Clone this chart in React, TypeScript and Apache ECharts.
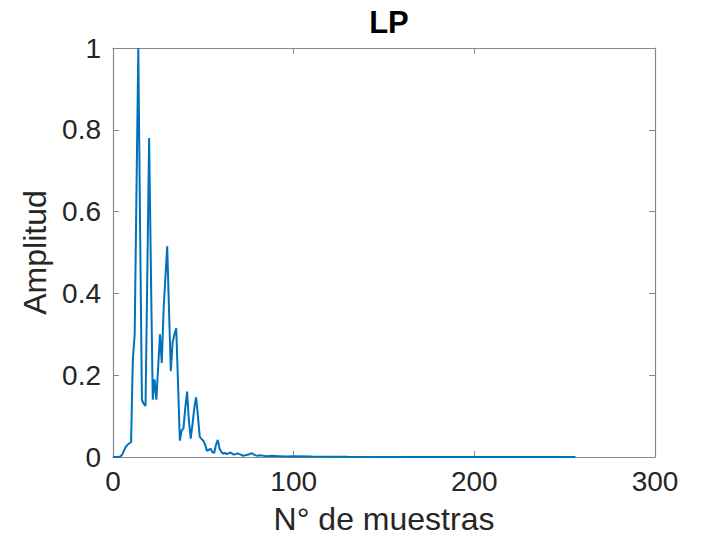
import React, { useEffect, useRef } from "react";
import * as echarts from "echarts";

const titleText = "LP";
const xName = "N° de muestras";
const yName = "Amplitud";

// sample index (x) and amplitude (y)
const sampleIdx = [
  0, 1, 2, 3, 4, 5, 6, 7, 8, 9, 10, 11, 12, 13, 14, 15, 16, 17, 18, 19, 20,
  21, 22, 23, 24, 25, 26, 27, 28, 29, 30, 31, 32, 33, 34, 35, 36, 37, 38, 39,
  40, 41, 42, 43, 44, 45, 46, 47, 48, 49, 50, 51, 52, 53, 54, 55, 56, 57, 58,
  59, 60, 61, 62, 63, 64, 65, 66, 67, 68, 69, 70, 71, 72, 73, 74, 75, 76, 77,
  78, 79, 80, 82, 85, 88, 92, 96, 100, 110, 130, 170, 210, 256,
];
const amplitude = [
  0, 0, 0, 0, 0.001, 0.005, 0.015, 0.024, 0.03, 0.033, 0.036, 0.24, 0.3,
  0.65, 1.0, 0.56, 0.14, 0.13, 0.125, 0.45, 0.78, 0.45, 0.14, 0.19, 0.14,
  0.22, 0.3, 0.23, 0.36, 0.44, 0.515, 0.36, 0.21, 0.28, 0.3, 0.315, 0.18,
  0.04, 0.065, 0.07, 0.12, 0.16, 0.09, 0.045, 0.08, 0.12, 0.146, 0.1, 0.05,
  0.044, 0.04, 0.03, 0.015, 0.018, 0.02, 0.012, 0.01, 0.03, 0.042, 0.02,
  0.012, 0.008, 0.01, 0.007, 0.009, 0.011, 0.008, 0.006, 0.007, 0.009,
  0.007, 0.005, 0.003, 0.004, 0.005, 0.006, 0.008, 0.009, 0.006, 0.004,
  0.003, 0.004, 0.002, 0.003, 0.002, 0.001, 0.002, 0.001, 0.0005, 0.0003,
  0.0002, 0,
];

const xMin = 0;
const xMax = 300;
const xStep = 100;
const yMin = 0;
const yMax = 1;
const yStep = 0.2;

const FONT = "'Liberation Sans', Arial, Helvetica, sans-serif";
const TEXT = "#262626";
const FRAME = "#8a8a8a";

export default function App() {
  const ref = useRef<HTMLDivElement>(null);

  useEffect(() => {
    if (!ref.current) return;
    const chart = echarts.init(ref.current, undefined, { renderer: "svg" });
    const data = sampleIdx.map((x, i) => [x, amplitude[i]]);

    const tickCommon = {
      show: true,
      inside: true,
      length: 6,
      lineStyle: { color: FRAME, width: 1 },
    };
    const lineCommon = {
      show: true,
      onZero: false,
      lineStyle: { color: FRAME, width: 1.2 },
    };

    chart.setOption({
      animation: false,
      backgroundColor: "#ffffff",
      title: {
        text: titleText,
        left: 384,
        textAlign: "center",
        top: 2,
        textStyle: {
          fontFamily: FONT,
          fontSize: 31,
          fontWeight: "bold",
          color: "#000",
        },
      },
      grid: { left: 113, right: 64, top: 48, bottom: 82, containLabel: false },
      xAxis: [
        {
          type: "value",
          min: xMin,
          max: xMax,
          interval: xStep,
          position: "bottom",
          name: xName,
          nameLocation: "middle",
          nameGap: 46,
          nameTextStyle: { fontFamily: FONT, fontSize: 32, color: TEXT },
          axisLine: lineCommon,
          axisTick: tickCommon,
          splitLine: { show: false },
          axisLabel: {
            fontFamily: FONT,
            fontSize: 28,
            color: TEXT,
            margin: 10,
          },
        },
        {
          type: "value",
          min: xMin,
          max: xMax,
          interval: xStep,
          position: "top",
          axisLine: lineCommon,
          axisTick: tickCommon,
          splitLine: { show: false },
          axisLabel: { show: false },
        },
      ],
      yAxis: [
        {
          type: "value",
          min: yMin,
          max: yMax,
          interval: yStep,
          position: "left",
          name: yName,
          nameLocation: "middle",
          nameGap: 60,
          nameTextStyle: { fontFamily: FONT, fontSize: 32, color: TEXT },
          axisLine: lineCommon,
          axisTick: tickCommon,
          splitLine: { show: false },
          axisLabel: {
            fontFamily: FONT,
            fontSize: 28,
            color: TEXT,
            margin: 12,
          },
        },
        {
          type: "value",
          min: yMin,
          max: yMax,
          interval: yStep,
          position: "right",
          axisLine: lineCommon,
          axisTick: tickCommon,
          splitLine: { show: false },
          axisLabel: { show: false },
        },
      ],
      series: [
        {
          type: "line",
          data,
          xAxisIndex: 0,
          yAxisIndex: 0,
          showSymbol: false,
          symbol: "none",
          clip: false,
          lineStyle: { color: "#0072BD", width: 2 },
        },
      ],
    });

    return () => chart.dispose();
  }, []);

  return (
    <div
      ref={ref}
      style={{
        position: "fixed",
        left: 0,
        top: 0,
        width: 719,
        height: 540,
        background: "#fff",
      }}
    />
  );
}
